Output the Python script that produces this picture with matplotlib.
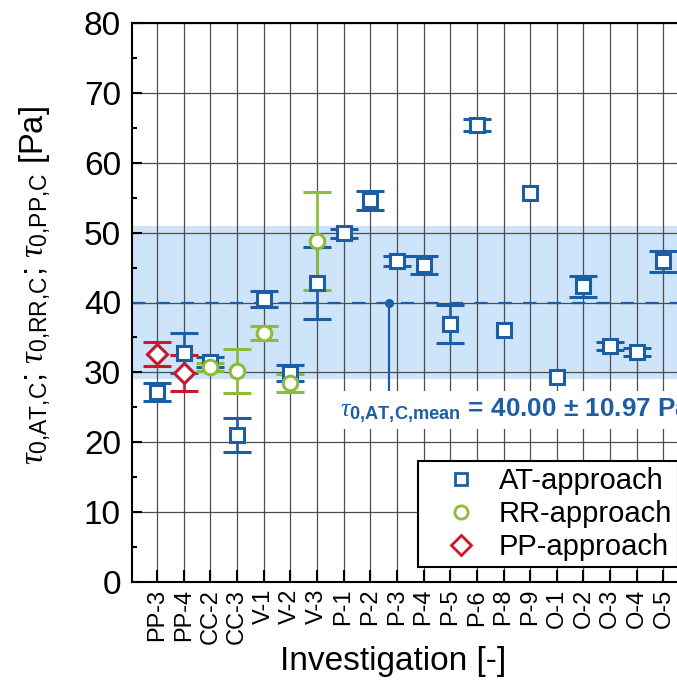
import numpy as np
import matplotlib
matplotlib.use("Agg")
import matplotlib.pyplot as plt
from matplotlib.ticker import MultipleLocator
from matplotlib.lines import Line2D

plt.rcParams['font.family'] = ['Liberation Sans', 'DejaVu Sans']
plt.rcParams['mathtext.fontset'] = 'custom'
plt.rcParams['mathtext.rm'] = 'Liberation Sans'
plt.rcParams['mathtext.it'] = 'Liberation Serif:italic'
plt.rcParams['mathtext.bf'] = 'Liberation Sans:bold'

# Investigations
labels = ['PP-3', 'PP-4', 'CC-2', 'CC-3', 'V-1', 'V-2', 'V-3', 'P-1', 'P-2', 'P-3',
          'P-4', 'P-5', 'P-6', 'P-8', 'P-9', 'O-1', 'O-2', 'O-3', 'O-4', 'O-5']

# AT-approach: yield stress and spread (nan = no error bar)
at_vals = [27.2, 32.8, 31.5, 21.0, 40.5, 29.9, 42.8, 49.9, 54.6, 45.9,
           45.4, 36.9, 65.4, 36.1, 55.6, 29.4, 42.3, 33.8, 32.9, 45.9]
at_err = [1.3, 2.9, 0.7, 2.4, 1.2, 1.1, 5.1, 0.6, 1.3, 0.7,
          1.3, 2.7, 0.9, np.nan, np.nan, np.nan, 1.5, 0.6, 0.6, 1.5]

# RR-approach
rr_labels = ['CC-2', 'CC-3', 'V-1', 'V-2', 'V-3']
rr_vals = [30.8, 30.2, 35.7, 28.5, 48.8]
rr_err = [0.6, 3.2, 1.0, 1.3, 7.0]

# PP-approach
pp_labels = ['PP-3', 'PP-4']
pp_vals = [32.6, 29.9]
pp_err = [1.7, 2.6]

# Mean of AT-approach with standard deviation
at_mean = 40.00
at_std = 10.97

blue = '#1b5ea6'
green = '#8dbb3a'
red = '#c8182d'
band = '#cde4fa'

fig = plt.figure(figsize=(6.77, 6.94), dpi=100)
ax = fig.add_axes([132 / 677, 112 / 694, 557 / 677, 559 / 694])

x = np.arange(len(labels))
pos = {lab: i for i, lab in enumerate(labels)}

ax.axhspan(at_mean - at_std, at_mean + at_std, color=band, zorder=0.2, lw=0)
ax.axhline(at_mean, color=blue, lw=1.6, ls=(0, (6, 5)), zorder=1.5)

common = dict(ls='none', capsize=10, elinewidth=1.9, capthick=1.9,
              markerfacecolor='white', mew=2.2, zorder=3)
ax.errorbar(x, at_vals, yerr=at_err, marker='s', ms=9.5, color=blue, **common)
ax.errorbar([pos[l] for l in rr_labels], rr_vals, yerr=rr_err, marker='o', ms=10.5,
            color=green, **common)
ax.errorbar([pos[l] for l in pp_labels], pp_vals, yerr=pp_err, marker='D', ms=10.5,
            color=red, **common)

# Mean annotation
ax.plot([8.72, 8.72], [at_mean, 26.6], color=blue, lw=1.6, zorder=4)
ax.plot([8.72], [at_mean], 'o', color=blue, ms=5.5, zorder=4)
ax.text(6.86, 24.6,
        r'$\tau_{\mathbf{0{,}AT{,}C{,}mean}}$ = 40.00 ± 10.97 Pa',
        color=blue, fontsize=18.8, fontweight='bold', va='center', ha='left',
        bbox=dict(facecolor='white', edgecolor='none', pad=3.5), zorder=4)

ax.set_xlim(-0.94, 19.96)
ax.set_ylim(0, 80)
ax.set_xticks(x)
ax.set_xticklabels(labels, rotation=90, fontsize=17)
ax.yaxis.set_major_locator(MultipleLocator(10))
ax.yaxis.set_minor_locator(MultipleLocator(5))
ax.tick_params(axis='y', which='major', direction='in', length=7, width=1.5,
               labelsize=24, pad=8)
ax.tick_params(axis='y', which='minor', direction='in', length=3.5, width=1.5)
ax.tick_params(axis='x', which='major', direction='in', length=8.5, width=1.5, pad=5)

ax.set_axisbelow(True)
ax.grid(True, axis='both', which='major', color='#4d4d4d', lw=0.9)
for s in ax.spines.values():
    s.set_linewidth(1.5)

ax.set_xlabel('Investigation [-]', fontsize=24)
ax.xaxis.set_label_coords(0.468, -0.115)
ax.set_ylabel(r'$\tau_{\mathrm{0{,}AT{,}C}}$; $\tau_{\mathrm{0{,}RR{,}C}}$; '
              r'$\tau_{\mathrm{0{,}PP{,}C}}$ [Pa]', fontsize=23.5)
ax.yaxis.set_label_coords(-0.142, 0.531)

handles = [
    Line2D([], [], ls='none', marker='s', ms=8.5, color=blue, mfc='white', mew=2.0),
    Line2D([], [], ls='none', marker='o', ms=9.5, color=green, mfc='white', mew=2.0),
    Line2D([], [], ls='none', marker='D', ms=10.5, color=red, mfc='white', mew=2.0),
]
leg = ax.legend(handles, ['AT-approach', 'RR-approach', 'PP-approach'],
                loc='lower left', bbox_to_anchor=(0.514, 0.027), fontsize=21,
                frameon=True, fancybox=False, framealpha=1, edgecolor='black',
                handletextpad=0.05, borderpad=0.2, labelspacing=0.17,
                handlelength=2.5, borderaxespad=0)
leg.get_frame().set_linewidth(1.5)

fig.savefig('out.png', dpi=100)
